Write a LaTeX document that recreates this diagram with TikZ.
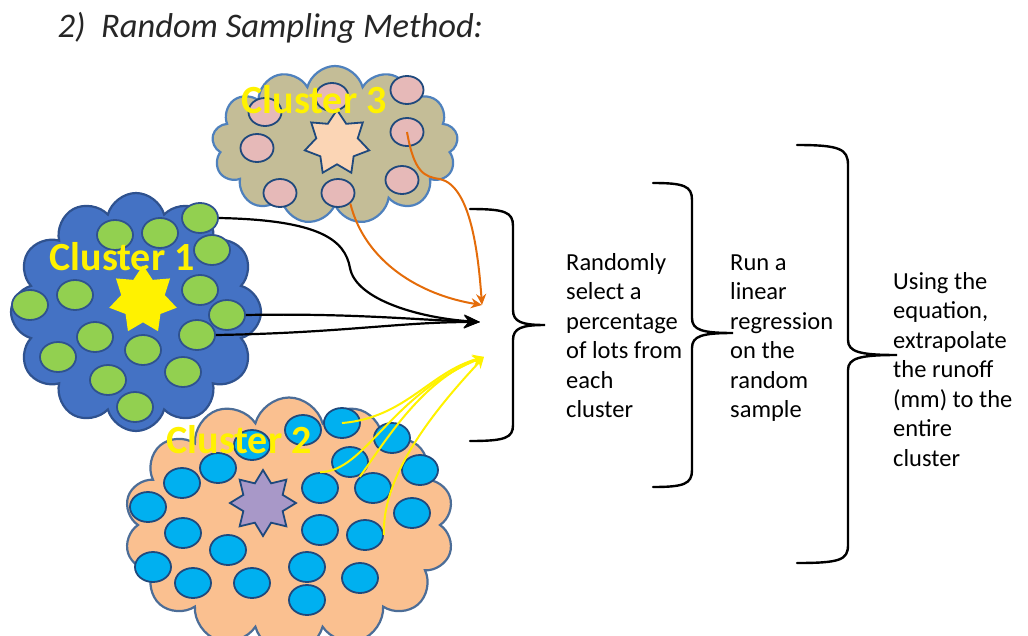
\documentclass[tikz,border=0pt]{standalone}
\usepackage{fontspec}
\setmainfont{Carlito}
\usetikzlibrary{shapes.symbols,shapes.geometric,arrows.meta}
\definecolor{cloudblue}{HTML}{4472C4}
\definecolor{darkblue}{HTML}{2F528F}
\definecolor{navy}{HTML}{1F497D}
\definecolor{lotgreen}{HTML}{92D050}
\definecolor{cloudtan}{HTML}{C4BD97}
\definecolor{edgeblue}{HTML}{4F81BD}
\definecolor{lotpink}{HTML}{E6B9B8}
\definecolor{cloudpeach}{HTML}{FAC090}
\definecolor{lotcyan}{HTML}{00B0F0}
\definecolor{starpeach}{HTML}{FBD5B5}
\definecolor{starlilac}{HTML}{A898C8}
\definecolor{arroworange}{HTML}{E46C0A}
\begin{document}
\begin{tikzpicture}[x=1pt, y=-1pt,
    lot/.style={ellipse, draw=navy, line width=1.8pt, minimum width=36pt, minimum height=30pt, inner sep=0pt},
    lotg/.style={lot, fill=lotgreen, draw=darkblue},
    lotp/.style={lot, fill=lotpink, minimum width=33pt, minimum height=28pt},
    lotc/.style={lot, fill=lotcyan},
    blob/.style={cloud, cloud puffs=13, cloud ignores aspect, line width=2.2pt, inner sep=0pt},
    bigstar/.style={star, star points=7, star point ratio=1.55, minimum size=66pt, inner sep=0pt, line width=1.8pt},
    clabel/.style={anchor=base west, text=yellow, font=\bfseries\fontsize{40}{42}\selectfont},
    steptext/.style={anchor=base west, align=left, inner sep=0pt, font=\fontsize{24.5}{29.5}\selectfont},
    bracket/.style={line width=2.4pt, line cap=round},
    blk/.style={line width=2.2pt, -{Stealth[length=16pt,width=13pt]}},
    org/.style={line width=2pt, arroworange, -{Stealth[length=11pt,width=10pt]}},
    yel/.style={line width=2pt, yellow, -{Stealth[length=11pt,width=11pt,open]}}]

    \useasboundingbox (0,0) rectangle (1028,635);

    \node[anchor=base west, font=\itshape\fontsize{34.5}{37}\selectfont, text=black!85] (title) at (54,37) {2)~ Random Sampling Method:};

    % cluster 3
    \node[blob, fill=cloudtan, draw=edgeblue, minimum width=246pt, minimum height=158pt] (c3) at (335,145) {};
    \node[bigstar, fill=starpeach, draw=navy] (s3) at (337,143) {};
    \node[lotp] (p1) at (265,112) {};
    \node[lotp] (p2) at (332,97) {};
    \node[lotp] (p3) at (407,90) {};
    \node[lotp] (p4) at (407,132) {};
    \node[lotp] (p5) at (257,148) {};
    \node[lotp] (p6) at (280,193) {};
    \node[lotp] (p7) at (338,193) {};
    \node[lotp] (p8) at (402,180) {};

    % cluster 1
    \node[blob, cloud puffs=12, fill=cloudblue, draw=darkblue, minimum width=250pt, minimum height=238pt] (c1) at (136,312) {};
    \node[bigstar, fill=yellow, draw=yellow] (s1) at (143,300) {};
    \node[lotg] (g1) at (200,218) {};
    \node[lotg] (g2) at (212,250) {};
    \node[lotg] (g3) at (115,235) {};
    \node[lotg] (g4) at (160,233) {};
    \node[lotg] (g5) at (30,305) {};
    \node[lotg] (g6) at (75,295) {};
    \node[lotg] (g7) at (200,290) {};
    \node[lotg] (g8) at (227,315) {};
    \node[lotg] (g9) at (197,335) {};
    \node[lotg] (g10) at (95,337) {};
    \node[lotg] (g11) at (58,357) {};
    \node[lotg] (g12) at (143,350) {};
    \node[lotg] (g13) at (108,380) {};
    \node[lotg] (g14) at (183,372) {};
    \node[lotg] (g15) at (135,407) {};

    % cluster 2
    \node[blob, cloud puffs=14, fill=cloudpeach, draw=navy!80, minimum width=330pt, minimum height=255pt] (c2) at (289,525) {};
    \node[bigstar, star points=8, fill=starlilac, draw=navy] (s2) at (263,503) {};
    \node[lotc] (b1) at (303,430) {};
    \node[lotc] (b2) at (342,423) {};
    \node[lotc] (b3) at (392,438) {};
    \node[lotc] (b4) at (252,445) {};
    \node[lotc] (b5) at (350,462) {};
    \node[lotc] (b6) at (218,468) {};
    \node[lotc] (b7) at (182,483) {};
    \node[lotc] (b8) at (420,470) {};
    \node[lotc] (b9) at (320,488) {};
    \node[lotc] (b10) at (373,488) {};
    \node[lotc] (b11) at (148,507) {};
    \node[lotc] (b12) at (412,513) {};
    \node[lotc] (b13) at (183,533) {};
    \node[lotc] (b14) at (320,530) {};
    \node[lotc] (b15) at (365,535) {};
    \node[lotc] (b16) at (228,550) {};
    \node[lotc] (b17) at (153,567) {};
    \node[lotc] (b18) at (193,583) {};
    \node[lotc] (b19) at (252,583) {};
    \node[lotc] (b20) at (307,567) {};
    \node[lotc] (b21) at (360,578) {};
    \node[lotc] (b22) at (307,600) {};

    \node[clabel] (l3) at (238,113) {Cluster 3};
    \node[clabel] (l1) at (46,270) {Cluster 1};
    \node[clabel] (l2) at (163,453) {Cluster 2};

    % where the samples meet
    \coordinate (tblk) at (480,322);
    \coordinate (torg) at (482,305);
    \coordinate (tyel) at (484,357);

    \draw[blk] (g1.east) .. controls (320,220) and (345,240) .. (350,268) .. controls (356,300) and (420,318) .. (tblk); % top lot
    \draw[blk] (g8.east) .. controls (350,313) and (420,320) .. (tblk);
    \draw[blk] (g9.east) .. controls (340,333) and (400,322) .. (tblk);

    \draw[org] (p7.south east) .. controls (365,262) and (420,295) .. (torg);
    \draw[org] (p4.center) .. controls (414,172) and (424,177) .. (440,179) .. controls (470,186) and (478,250) .. (torg);

    \draw[yel] (b2.center) .. controls (405,418) and (430,372) .. (tyel);
    \draw[yel] (b9.north) .. controls (365,472) and (390,395) .. (tyel);
    \draw[yel] (b10.north west) .. controls (380,450) and (420,380) .. (tyel);
    \draw[yel] (b15.east) .. controls (382,480) and (425,420) .. (tyel);

    % braces
    \draw[bracket] (470,209) .. controls (505,209) and (513,212) .. (513,226) -- (513,310) .. controls (513,322) and (522,325) .. (545,325) .. controls (522,325) and (513,328) .. (513,340) -- (513,425) .. controls (513,438) and (505,441) .. (470,441);
    \draw[bracket] (653,183) .. controls (684,183) and (692,186) .. (692,200) -- (692,318) .. controls (692,330) and (702,333) .. (733,333) .. controls (702,333) and (692,336) .. (692,348) -- (692,470) .. controls (692,484) and (684,487) .. (653,487);
    \draw[bracket] (797,145) .. controls (840,145) and (848,149) .. (848,165) -- (848,340) .. controls (848,352) and (860,355) .. (897,355) .. controls (860,355) and (848,358) .. (848,370) -- (848,545) .. controls (848,560) and (840,563) .. (797,563);

    \node[steptext] (step1) at (566,417.5) {Randomly\\select a\\percentage\\of lots from\\each\\cluster};
    \node[steptext] (step2) at (730,417.5) {Run a\\linear\\regression\\on the\\random\\sample};
    \node[steptext] (step3) at (893,466) {Using the\\equation,\\extrapolate\\the runoff\\(mm) to the\\entire\\cluster};
\end{tikzpicture}
\end{document}
